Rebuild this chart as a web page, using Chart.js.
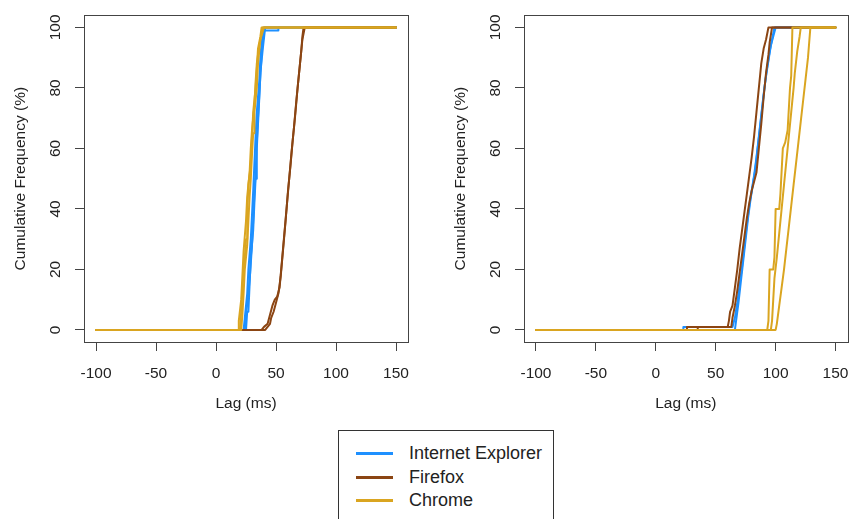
<!DOCTYPE html>
<html>
<head>
<meta charset="utf-8">
<script src="https://cdn.jsdelivr.net/npm/chart.js@4"></script>
<style>
  body { margin: 0; background: #fff; width: 862px; height: 519px; overflow: hidden; position: relative; font-family: "Liberation Sans", Arial, sans-serif; }
  canvas { position: absolute; top: 0; }
  #leftChart { left: 0; }
  #rightChart { left: 440px; }
  #legend { position: absolute; left: 338px; top: 430px; width: 216px; height: 120px; border: 1px solid #333; box-sizing: border-box; }
  .row { position: absolute; left: 0; height: 24px; display: flex; align-items: center; }
  .swatch { width: 37px; height: 3px; margin-left: 17px; margin-right: 16px; }
  .row span { font-size: 18px; color: #222; }
</style>
</head>
<body>
<canvas id="leftChart" width="430" height="420"></canvas>
<canvas id="rightChart" width="422" height="420"></canvas>
<div id="legend"></div>
<script>
// axis ticks
const xTicks = [-100, -50, 0, 50, 100, 150];
const yTicks = [0, 20, 40, 60, 80, 100];
const browsers = ["Internet Explorer", "Firefox", "Chrome"];
const colors = ["#1E90FF", "#8B4513", "#DAA520"];

// left panel: runs per browser, [lag ms, cumulative %]
const leftIE = [
  [[-100,0],[24,0],[25,5],[27,12],[28.5,19],[30,28],[31,36],[32,45],[33,52],[34,62],[35,70],[36,77],[37,84],[38,91],[39.5,97],[40,99],[52,99],[52,100],[150,100]],
  [[-100,0],[23,0],[24,4],[26,12],[27,20],[29,30],[30,38],[31,46],[32,55],[33,64],[34,72],[36,82],[37,90],[38,95],[40,100],[150,100]],
  [[-100,0],[25,0],[26,6],[27,6],[28,15],[29,24],[31,33],[32,42],[33,50],[34,50],[34,60],[35,68],[36,76],[37,85],[39,93],[41,100],[150,100]]
];
const leftFF = [
  [[-100,0],[38,0],[40,1],[43,2],[45,5],[47,8],[49,10],[51,11],[53,14],[55,23],[57,32],[59,41],[61,50],[63,59],[65,67],[67,76],[69,84],[71,92],[72,97],[73,100],[150,100]],
  [[-100,0],[41,0],[43,1],[45,2],[46,4],[48,6],[50,9],[52,12],[54,18],[56,27],[58,36],[60,46],[62,54],[64,63],[66,71],[68,80],[70,88],[72,96],[74,100],[150,100]]
];
const leftCH = [
  [[-100,0],[19,0],[19,3],[21,10],[22,18],[23,26],[25,36],[26,44],[28,52],[29,60],[30,66],[32,74],[33,82],[34,88],[36,94],[38,98],[39,100],[150,100]],
  [[-100,0],[20,0],[21,6],[22,14],[24,24],[25,30],[26,30],[26,38],[27,48],[29,55],[30,64],[31,72],[33,80],[34,86],[35,93],[37,97],[38,100],[150,100]],
  [[-100,0],[21,0],[22,5],[23,12],[24,20],[26,28],[27,36],[28,44],[29,50],[30,58],[31,65],[32,65],[32,72],[34,80],[35,88],[36,92],[37,96],[40,100],[150,100]]
];

// right panel
const rightIE = [
  [[-100,0],[23,0],[23,1],[64,1],[66,4],[68,9],[70,15],[72,21],[74,28],[76,35],[78,41],[80,46],[82,51],[84,57],[86,64],[88,71],[90,78],[92,84],[94,89],[96,94],[98,97],[100,100],[150,100]],
  [[-100,0],[66,0],[67,3],[69,9],[71,16],[73,23],[75,30],[77,37],[79,43],[81,48],[83,53],[85,60],[87,67],[89,74],[91,81],[93,87],[95,92],[97,96],[99,100],[150,100]]
];
const rightFF = [
  [[-100,0],[26,0],[26,1],[60,1],[61,3],[62,6],[64,8],[66,14],[68,20],[70,27],[72,33],[74,39],[76,45],[78,51],[80,57],[82,64],[84,72],[86,80],[87,84],[88,88],[90,93],[92,96],[93,98],[94,100],[150,100]],
  [[-100,0],[35,0],[35,1],[63,1],[64,4],[66,8],[68,13],[70,19],[72,25],[74,31],[76,37],[78,42],[80,46],[82,49],[84,52],[86,60],[88,68],[90,77],[92,85],[94,91],[95,95],[97,100],[150,100]]
];
const rightCH = [
  [[-100,0],[93,0],[94,3],[95,20],[98,20],[99,24],[100,40],[103,40],[104,45],[106,60],[108,62],[110,66],[112,80],[113,84],[114,100],[150,100]],
  [[-100,0],[96,0],[97,3],[98,10],[99,17],[101,24],[103,32],[105,40],[107,48],[109,56],[111,64],[113,72],[115,80],[116,85],[118,92],[120,97],[121,100],[150,100]],
  [[-100,0],[100,0],[101,2],[103,8],[105,14],[107,20],[109,27],[111,34],[113,41],[115,48],[117,55],[119,62],[121,69],[123,76],[125,83],[127,90],[128,95],[129,100],[150,100]]
];

const tickFont = { family: "Liberation Sans, Arial, sans-serif", size: 15.5 };
const textColor = "#222";

// draws the frame round the plot region, like R's box()
const boxPlugin = {
  id: "box",
  afterDatasetsDraw(chart) {
    const a = chart.chartArea;
    const ctx = chart.ctx;
    ctx.save();
    ctx.strokeStyle = "#444";
    ctx.lineWidth = 1;
    ctx.strokeRect(Math.round(a.left) + 0.5, Math.round(a.top) + 0.5, Math.round(a.right - a.left), Math.round(a.bottom - a.top));
    ctx.restore();
  }
};

function makeDatasets(groups) {
  const sets = [];
  groups.forEach((runs, i) => {
    runs.forEach(run => {
      sets.push({
        label: browsers[i],
        data: run.map(p => ({ x: p[0], y: p[1] })),
        order: groups.length - i, // Chrome painted last, on top
        showLine: true,
        borderColor: colors[i],
        borderWidth: 2,
        pointRadius: 0,
        fill: false,
        tension: 0,
        borderJoinStyle: "round",
        borderCapStyle: "round"
      });
    });
  });
  return sets;
}

function makeChart(id, groups, rightPad) {
  const ctx = document.getElementById(id).getContext("2d");
  return new Chart(ctx, {
    type: "scatter",
    data: { datasets: makeDatasets(groups) },
    options: {
      responsive: false,
      animation: false,
      layout: { padding: { top: 11, right: rightPad, bottom: 0, left: 0 } },
      plugins: { legend: { display: false }, tooltip: { enabled: false } },
      scales: {
        x: {
          type: "linear",
          min: -110,
          max: 160,
          afterBuildTicks: s => { s.ticks = xTicks.map(v => ({ value: v })); },
          afterFit: s => { s.height = 78; },
          grid: { drawOnChartArea: false, tickLength: 9, color: "#444" },
          border: { display: false },
          ticks: { font: tickFont, color: textColor, padding: 13, maxRotation: 0, autoSkip: false },
          title: { display: true, text: "Lag (ms)", font: tickFont, color: textColor, padding: { top: 0, bottom: 7 } }
        },
        y: {
          type: "linear",
          min: -4,
          max: 104,
          afterBuildTicks: s => { s.ticks = yTicks.map(v => ({ value: v })); },
          afterFit: s => { s.width = 84; },
          grid: { drawOnChartArea: false, tickLength: 9, color: "#444" },
          border: { display: false },
          ticks: { font: tickFont, color: textColor, padding: 6, minRotation: 90, maxRotation: 90, crossAlign: "center", autoSkip: false },
          title: { display: true, text: "Cumulative Frequency (%)", font: tickFont, color: textColor, padding: { top: 11, bottom: 0 } }
        }
      }
    },
    plugins: [boxPlugin]
  });
}

makeChart("leftChart", [leftIE, leftFF, leftCH], 22);
makeChart("rightChart", [rightIE, rightFF, rightCH], 14);

// legend box below the panels
const legend = document.getElementById("legend");
const rowTops = [10, 34, 57];
browsers.forEach((name, i) => {
  const row = document.createElement("div");
  row.className = "row";
  row.style.top = rowTops[i] + "px";
  const sw = document.createElement("div");
  sw.className = "swatch";
  sw.style.background = colors[i];
  const label = document.createElement("span");
  label.textContent = name;
  row.appendChild(sw);
  row.appendChild(label);
  legend.appendChild(row);
});
</script>
</body>
</html>
